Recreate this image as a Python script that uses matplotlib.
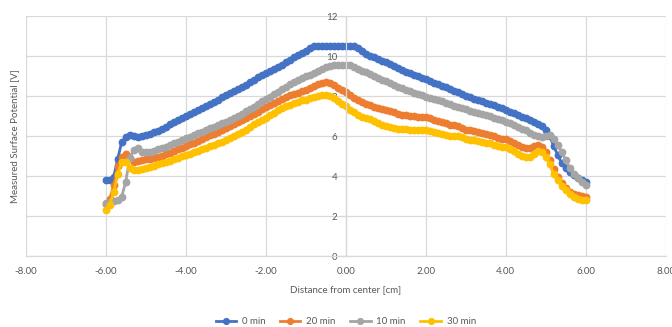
import numpy as np
import matplotlib
matplotlib.use("Agg")
import matplotlib.pyplot as plt

# surface potential scans, one reading every 0.1 cm from -6 to +6 cm
dist_cm = np.round(np.arange(-60, 61) / 10.0, 1)

v_0min = [
    3.80, 3.80, 3.97, 4.85, 5.70, 5.95, 6.05, 6.00, 5.97, 6.00,
    6.05, 6.12, 6.18, 6.27, 6.37, 6.47, 6.58, 6.68, 6.78, 6.88,
    7.00, 7.10, 7.20, 7.30, 7.40, 7.50, 7.62, 7.72, 7.82, 7.93,
    8.03, 8.13, 8.24, 8.35, 8.46, 8.57, 8.68, 8.80, 8.95, 9.05,
    9.15, 9.25, 9.35, 9.46, 9.57, 9.68, 9.80, 9.93, 10.03, 10.15,
    10.27, 10.40, 10.50, 10.52, 10.52, 10.52, 10.52, 10.52, 10.52, 10.52,
    10.52, 10.52, 10.52, 10.40, 10.27, 10.12, 10.02, 9.93, 9.85, 9.76,
    9.68, 9.58, 9.49, 9.40, 9.31, 9.22, 9.14, 9.06, 8.98, 8.90,
    8.83, 8.75, 8.67, 8.59, 8.51, 8.43, 8.35, 8.27, 8.20, 8.10,
    8.00, 7.94, 7.87, 7.80, 7.73, 7.67, 7.60, 7.53, 7.45, 7.38,
    7.30, 7.22, 7.13, 7.05, 6.96, 6.88, 6.78, 6.70, 6.62, 6.50,
    6.30, 6.00, 5.50, 5.05, 4.65, 4.42, 4.22, 4.05, 3.92, 3.82,
    3.72,
]

v_20min = [
    2.60, 2.85, 3.55, 4.50, 4.97, 5.12, 4.88, 4.72, 4.75, 4.80,
    4.83, 4.86, 4.90, 4.95, 5.02, 5.10, 5.17, 5.25, 5.33, 5.42,
    5.50, 5.58, 5.67, 5.76, 5.85, 5.94, 6.03, 6.12, 6.21, 6.30,
    6.38, 6.48, 6.58, 6.68, 6.78, 6.88, 6.98, 7.10, 7.22, 7.33,
    7.45, 7.57, 7.67, 7.77, 7.86, 7.95, 8.03, 8.10, 8.17, 8.24,
    8.30, 8.40, 8.50, 8.60, 8.66, 8.68, 8.66, 8.55, 8.42, 8.32,
    8.22, 8.05, 7.90, 7.78, 7.68, 7.62, 7.55, 7.47, 7.40, 7.33,
    7.30, 7.25, 7.18, 7.12, 7.07, 7.03, 7.00, 6.99, 6.97, 6.95,
    6.93, 6.88, 6.82, 6.76, 6.70, 6.63, 6.57, 6.53, 6.49, 6.42,
    6.32, 6.28, 6.23, 6.18, 6.14, 6.10, 6.05, 5.98, 5.92, 5.87,
    5.83, 5.75, 5.66, 5.56, 5.45, 5.38, 5.40, 5.50, 5.55, 5.45,
    5.22, 4.80, 4.35, 3.97, 3.65, 3.40, 3.20, 3.10, 3.05, 3.00,
    2.97,
]

v_10min = [
    2.63, 2.72, 2.76, 2.80, 2.97, 3.70, 4.90, 5.30, 5.38, 5.20,
    5.18, 5.22, 5.27, 5.33, 5.40, 5.47, 5.55, 5.63, 5.71, 5.80,
    5.88, 5.96, 6.04, 6.13, 6.21, 6.30, 6.38, 6.46, 6.55, 6.63,
    6.72, 6.82, 6.92, 7.02, 7.12, 7.23, 7.35, 7.47, 7.60, 7.73,
    7.85, 7.97, 8.10, 8.22, 8.35, 8.47, 8.60, 8.70, 8.80, 8.90,
    8.98, 9.07, 9.17, 9.27, 9.36, 9.43, 9.50, 9.54, 9.56, 9.56,
    9.56, 9.53, 9.45, 9.35, 9.27, 9.20, 9.10, 9.00, 8.90, 8.82,
    8.76, 8.67, 8.57, 8.47, 8.38, 8.30, 8.23, 8.16, 8.09, 8.03,
    7.97, 7.91, 7.85, 7.79, 7.73, 7.67, 7.58, 7.52, 7.46, 7.40,
    7.33, 7.27, 7.21, 7.16, 7.10, 7.05, 6.98, 6.92, 6.85, 6.78,
    6.72, 6.65, 6.55, 6.45, 6.37, 6.30, 6.15, 6.07, 6.00, 5.97,
    6.00, 6.04, 5.85, 5.55, 5.20, 4.80, 4.42, 4.12, 3.88, 3.70,
    3.55,
]

v_30min = [
    2.30, 2.55, 3.20, 4.10, 4.72, 4.72, 4.38, 4.30, 4.30, 4.33,
    4.38, 4.45, 4.52, 4.58, 4.64, 4.70, 4.77, 4.84, 4.91, 4.98,
    5.05, 5.12, 5.19, 5.26, 5.34, 5.41, 5.48, 5.56, 5.63, 5.71,
    5.80, 5.90, 6.00, 6.10, 6.20, 6.32, 6.45, 6.58, 6.70, 6.82,
    6.92, 7.05, 7.17, 7.28, 7.38, 7.48, 7.57, 7.65, 7.72, 7.78,
    7.82, 7.88, 7.95, 8.02, 8.05, 8.05, 8.00, 7.90, 7.75, 7.60,
    7.48, 7.32, 7.18, 7.05, 6.97, 6.92, 6.85, 6.75, 6.65, 6.57,
    6.52, 6.45, 6.40, 6.37, 6.35, 6.33, 6.32, 6.31, 6.31, 6.30,
    6.30, 6.26, 6.20, 6.14, 6.08, 6.05, 6.02, 6.00, 5.98, 5.93,
    5.85, 5.81, 5.78, 5.75, 5.71, 5.67, 5.63, 5.57, 5.52, 5.47,
    5.43, 5.34, 5.24, 5.12, 5.02, 4.97, 4.97, 5.10, 5.25, 5.20,
    4.97, 4.60, 4.12, 3.80, 3.52, 3.28, 3.08, 2.95, 2.86, 2.82,
    2.80,
]

series = [
    ("0 min", v_0min, "#4472C4"),
    ("20 min", v_20min, "#ED7D31"),
    ("10 min", v_10min, "#A5A5A5"),
    ("30 min", v_30min, "#FFC000"),
]

plt.rcParams["font.family"] = ["Lato", "DejaVu Sans"]
text_col = "#595959"
grid_col = "#D9D9D9"

fig = plt.figure(figsize=(6.72, 3.27), dpi=100)
ax = fig.add_axes([25.7 / 672, 71 / 327, 640 / 672, 240 / 327])

for name, vals, col in series:
    ax.plot(dist_cm, vals, "-o", color=col, lw=2, ms=4.6,
            mec=col, mfc=col, label=name, clip_on=False)

ax.set_xlim(-8, 8)
ax.set_ylim(0, 12)
ax.set_xticks(np.arange(-8, 9, 2))
ax.set_xticklabels([f"{v:.2f}" for v in np.arange(-8, 9, 2)])
ax.set_yticks(np.arange(0, 13, 2))

ax.grid(True, color=grid_col, lw=0.9)
ax.set_axisbelow(True)
for s in ("top", "right"):
    ax.spines[s].set_visible(False)
ax.spines["left"].set_position(("data", 0))
ax.spines["left"].set_color(grid_col)
ax.spines["bottom"].set_color(grid_col)
ax.spines["left"].set_linewidth(0.9)
ax.spines["bottom"].set_linewidth(0.9)

ax.tick_params(axis="x", length=0, pad=8, labelsize=7, labelcolor=text_col)
ax.tick_params(axis="y", length=4, width=0.9, color=grid_col, pad=2,
               labelsize=7, labelcolor=text_col)

fig.text(345.7 / 672, 1 - 290 / 327, "Distance from center [cm]",
         ha="center", va="center", fontsize=7, color=text_col)
fig.text(15 / 672, 1 - 136 / 327, "Measured Surface Potential [V]",
         ha="center", va="center", rotation=90, fontsize=7, color=text_col)

leg = fig.legend(loc="center", bbox_to_anchor=(345.7 / 672, 1 - 321.5 / 327),
                 ncol=4, frameon=False, fontsize=7, handlelength=2.1,
                 handletextpad=0.6, columnspacing=1.5, markerscale=0.9)
for t in leg.get_texts():
    t.set_color(text_col)

fig.savefig("out.png", dpi=100)
